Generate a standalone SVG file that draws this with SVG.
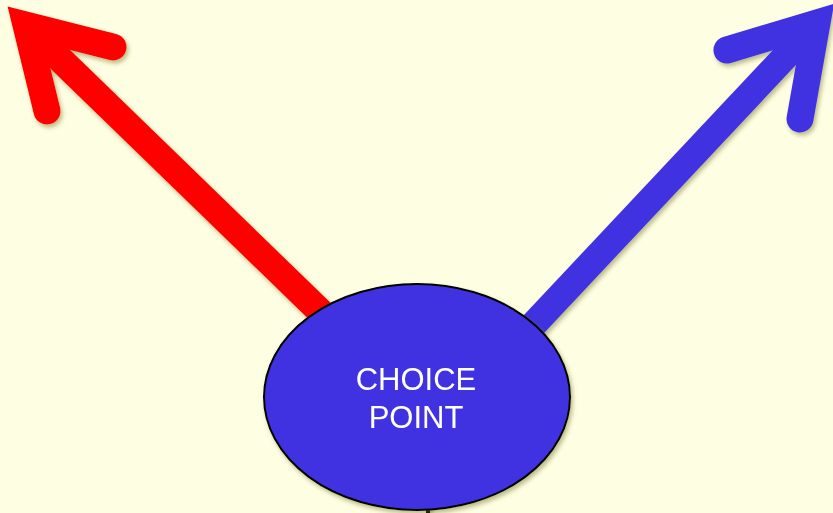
<svg xmlns="http://www.w3.org/2000/svg" width="833" height="513" viewBox="0 0 833 513">
  <defs>
    <filter id="shadow" x="-10%" y="-10%" width="130%" height="130%">
      <feGaussianBlur in="SourceAlpha" stdDeviation="2"/>
      <feOffset dx="2" dy="3" result="b"/>
      <feFlood flood-color="#6b6b20" flood-opacity="0.45"/>
      <feComposite in2="b" operator="in"/>
      <feMerge><feMergeNode/><feMergeNode in="SourceGraphic"/></feMerge>
    </filter>
  </defs>
  <style>
    .arrow { fill: none; stroke-width: 27; stroke-linecap: round; stroke-linejoin: miter; stroke-miterlimit: 10; }
    .shaft { fill: none; stroke-width: 27; stroke-linecap: butt; }
    .red { stroke: #ff0000; }
    .blue { stroke: #4033e0; }
    .label { font-family: "Liberation Sans", Arial, sans-serif; font-size: 31px; fill: #ffffff; text-anchor: middle; }
  </style>
  <rect width="833" height="513" fill="#fefee2"/>
  <g id="connectors" filter="url(#shadow)">
    <g id="red-arrow">
      <line class="shaft red" x1="331" y1="322" x2="28" y2="28"/>
      <polyline class="arrow red" points="113,47 26,25 47,111"/>
    </g>
    <g id="blue-arrow">
      <line class="shaft blue" x1="519" y1="340" x2="814" y2="26"/>
      <polyline class="arrow blue" points="727,50 817,23 800,119"/>
    </g>
    <line id="down-line" x1="428" y1="505" x2="428" y2="515" stroke="#000" stroke-width="4"/>
  </g>
  <g id="choice-point" filter="url(#shadow)">
    <ellipse cx="417" cy="397" rx="153" ry="113" fill="#4033e0" stroke="#000" stroke-width="2"/>
    <text class="label" x="416" y="390">CHOICE</text>
    <text class="label" x="416" y="428">POINT</text>
  </g>
</svg>
